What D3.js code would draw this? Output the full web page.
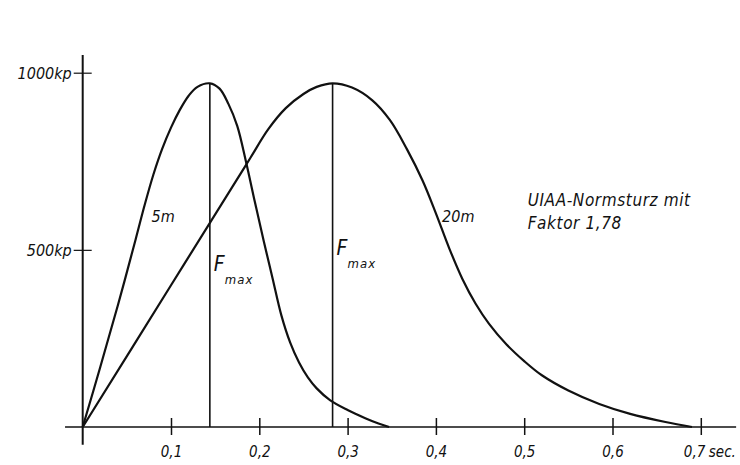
<!DOCTYPE html>
<html>
<head>
<meta charset="utf-8">
<script src="https://cdn.jsdelivr.net/npm/d3@7"></script>
<style>
  body { margin: 0; background: #fff; }
  text { font-family: "DejaVu Sans Condensed", "DejaVu Sans", sans-serif; font-style: italic; fill: #111; }
</style>
</head>
<body>
<div id="chart"></div>
<script>
// Force curves: [time in sec, force in kp]
const fall5m = [
  [0, 0], [0.02, 170], [0.04, 345], [0.06, 530], [0.07, 625], [0.08, 712],
  [0.09, 785], [0.10, 845], [0.11, 895], [0.12, 935], [0.13, 960], [0.144, 970],
  [0.155, 955], [0.165, 912], [0.175, 850], [0.185, 748], [0.195, 635],
  [0.205, 525], [0.215, 420], [0.225, 315], [0.235, 238], [0.245, 182],
  [0.255, 140], [0.265, 109], [0.28, 76], [0.30, 48], [0.32, 25], [0.335, 10],
  [0.347, 0]
];
const fall20m = [
  [0, 0], [0.10, 400], [0.17, 680], [0.19, 760], [0.21, 840], [0.23, 900],
  [0.25, 940], [0.265, 960], [0.283, 970], [0.305, 958], [0.328, 922],
  [0.348, 866], [0.367, 785], [0.385, 695], [0.40, 603], [0.415, 505],
  [0.43, 418], [0.445, 348], [0.46, 292], [0.48, 233], [0.50, 186],
  [0.52, 146], [0.55, 103], [0.585, 65], [0.62, 37], [0.66, 14], [0.69, 0]
];
const fmaxTimes = [0.144, 0.283];
const fmaxValue = 970;
const xTicks = [0.1, 0.2, 0.3, 0.4, 0.5, 0.6, 0.7];
const yTicks = [500, 1000];
const curveLabels = [
  { text: '5m', t: 0.078, f: 579 },
  { text: '20m', t: 0.407, f: 579 }
];
const noteLines = ['UIAA-Normsturz mit', 'Faktor 1,78'];

const width = 740, height = 465;

const svg = d3.select('#chart')
  .append('svg')
  .attr('width', width)
  .attr('height', height);

// scales fitted to the drawing
const x = d3.scaleLinear().domain([0, 0.7]).range([82.7, 700.8]);
const y = d3.scaleLinear().domain([0, 1000]).range([427, 72.7]);

// axis lines, a bit longer than the data range
svg.append('line')
  .attr('x1', x(-0.02)).attr('x2', x(0.74))
  .attr('y1', y(0)).attr('y2', y(0))
  .attr('stroke', '#111').attr('stroke-width', 1.6);
svg.append('line')
  .attr('x1', x(0)).attr('x2', x(0))
  .attr('y1', y(-50)).attr('y2', y(1050))
  .attr('stroke', '#111').attr('stroke-width', 2);

// x axis, ticks cross the line
const fmt = d => d3.format('.1f')(d).replace('.', ',');
const xAxis = svg.append('g')
  .attr('transform', `translate(0, ${y(0)})`)
  .call(d3.axisBottom(x).tickValues(xTicks).tickFormat(fmt).tickSize(0));
xAxis.select('.domain').remove();
xAxis.selectAll('.tick line')
  .attr('y1', -9).attr('y2', 8)
  .attr('stroke', '#111').attr('stroke-width', 1.5);
xAxis.selectAll('.tick text')
  .attr('y', 30).attr('dy', 0)
  .attr('x', d => d === 0.7 ? 4 : 0)
  .attr('text-anchor', d => d === 0.7 ? 'end' : 'middle')
  .style('font-size', '15px')
  .style('font-family', '"DejaVu Sans Condensed", "DejaVu Sans", sans-serif')
  .attr('fill', '#111');
svg.append('text')
  .attr('x', x(0.7) + 8)
  .attr('y', y(0) + 30)
  .style('font-size', '15px')
  .text('sec.');

// y axis ticks
const yAxis = svg.append('g')
  .attr('transform', `translate(${x(0)}, 0)`)
  .call(d3.axisLeft(y).tickValues(yTicks).tickFormat(d => d + 'kp').tickSize(0));
yAxis.select('.domain').remove();
yAxis.selectAll('.tick line')
  .attr('x1', -9).attr('x2', 9)
  .attr('stroke', '#111').attr('stroke-width', 1.2);
yAxis.selectAll('.tick text')
  .attr('x', -11).attr('dy', '0.35em')
  .style('font-size', '16px')
  .style('font-family', '"DejaVu Sans Condensed", "DejaVu Sans", sans-serif')
  .attr('fill', '#111');

// Fmax verticals
svg.selectAll('.fmax')
  .data(fmaxTimes)
  .enter()
  .append('line')
  .attr('class', 'fmax')
  .attr('x1', d => x(d)).attr('x2', d => x(d))
  .attr('y1', y(fmaxValue)).attr('y2', y(0))
  .attr('stroke', '#111').attr('stroke-width', 1.6);

// curves
const line = d3.line()
  .x(d => x(d[0]))
  .y(d => y(d[1]))
  .curve(d3.curveCatmullRom.alpha(0.5));

[fall5m, fall20m].forEach(series => {
  svg.append('path')
    .datum(series)
    .attr('d', line)
    .attr('fill', 'none')
    .attr('stroke', '#111')
    .attr('stroke-width', 2.2);
});

// curve names
svg.selectAll('.clabel')
  .data(curveLabels)
  .enter()
  .append('text')
  .attr('x', d => x(d.t))
  .attr('y', d => y(d.f))
  .style('font-size', '16px')
  .text(d => d.text);

// F max labels next to each vertical
const fmaxLabelForce = [440, 485];
fmaxTimes.forEach((t, i) => {
  svg.append('text')
    .attr('x', x(t) + 4)
    .attr('y', y(fmaxLabelForce[i]))
    .style('font-size', '21px')
    .text('F');
  svg.append('text')
    .attr('x', x(t) + 15)
    .attr('y', y(fmaxLabelForce[i]) + 13)
    .style('font-size', '13px')
    .style('letter-spacing', '1px')
    .text('max');
});

// note on the right
svg.append('text')
  .attr('x', x(0.504))
  .attr('y', y(624))
  .style('font-size', '17px')
  .style('letter-spacing', '0.6px')
  .selectAll('tspan')
  .data(noteLines)
  .enter()
  .append('tspan')
  .attr('x', x(0.504))
  .attr('dy', (d, i) => i === 0 ? 0 : 23)
  .text(d => d);
</script>
</body>
</html>
